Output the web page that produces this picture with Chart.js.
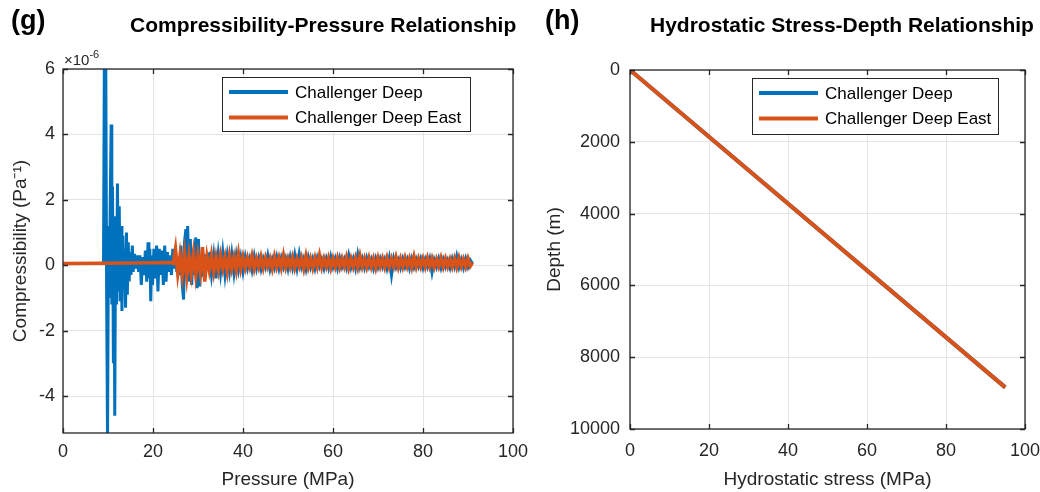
<!DOCTYPE html>
<html>
<head>
<meta charset="utf-8">
<script src="https://cdn.jsdelivr.net/npm/chart.js@4.4.1/dist/chart.umd.min.js"></script>
<style>
  body { margin: 0; background: #fff; width: 1040px; height: 492px; overflow: hidden; position: relative;
         font-family: "Liberation Sans", Arial, sans-serif; }
  .panel { position: absolute; top: 0; height: 492px; }
  .lbl { position: absolute; white-space: nowrap; color: #000; line-height: 1; }
  .lbl sup { font-size: 11px; position: relative; top: -1px; }
</style>
</head>
<body>
<div class="panel" style="left:520px;width:520px"><canvas id="depthChart" width="520" height="492"></canvas></div>
<div class="panel" style="left:0;width:545px"><canvas id="compChart" width="545" height="492"></canvas></div>

<div class="lbl" style="left:11px;top:7px;font-size:27px;font-weight:bold">(g)</div>
<div class="lbl" style="left:130px;top:14px;font-size:21px;font-weight:bold">Compressibility-Pressure Relationship</div>
<div class="lbl" style="left:64px;top:50px;font-size:15px;color:#262626">&times;10<sup>-6</sup></div>
<div class="lbl" style="left:545px;top:7px;font-size:27px;font-weight:bold">(h)</div>
<div class="lbl" style="left:650px;top:14px;font-size:21px;font-weight:bold">Hydrostatic Stress-Depth Relationship</div>

<script>
var FONT = "'Liberation Sans', Arial, sans-serif";
var BLUE = "#0072BD";
var ORANGE = "#D95319";

// ---- (g) compressibility vs pressure, values in 1e-6 Pa^-1 ----
var seriesNames = ["Challenger Deep", "Challenger Deep East"];

// Challenger Deep: the spiky start, read point by point
var blueHeadPressure = [9.0, 9.2, 9.4, 9.5, 9.7, 9.9, 10.1, 10.3, 10.5, 10.7, 10.85, 11.0, 11.2, 11.35, 11.5, 11.7,
  11.9, 12.1, 12.3, 12.5, 12.7, 12.9, 13.1, 13.3, 13.5, 13.7, 13.9, 14.1, 14.3, 14.5, 14.7, 14.9, 15.1, 15.4,
  15.6, 15.9, 16.2, 16.5, 16.8, 17.1, 17.4, 17.7, 18.0, 18.3, 18.6, 18.9, 19.1, 19.3, 19.5, 19.7, 19.9, 20.2,
  20.5, 20.8, 21.1, 21.4, 21.7, 22.0, 22.3, 22.6, 22.9, 23.2, 23.5, 23.8, 24.1, 24.4, 24.7, 25.0, 25.3, 25.6,
  25.9, 26.2, 26.5, 26.8, 27.0, 27.3, 27.5, 27.7, 28.0, 28.3, 28.6, 28.9, 29.2, 29.5, 29.8, 30.1, 30.4, 30.7,
  31.0, 31.3, 31.6, 32.0];
var blueHeadValue = [0.1, 6.5, 2.0, 6.5, -1.0, -5.4, 1.2, -1.0, 2.0, 4.3, -1.2, 2.4, -3.0, 1.0, -4.6, 1.5,
  -1.2, 2.5, -0.8, 1.8, -1.1, 1.2, -1.4, 0.9, -0.7, 0.5, -1.3, 1.0, -0.9, 0.7, -0.5, 0.4, -0.3, 0.6,
  -0.2, 0.35, -0.1, 0.3, -0.2, 0.3, -0.6, 0.25, -0.3, 0.45, -0.5, 0.7, -0.4, 0.5, -1.1, 0.3, -0.6, 0.5,
  -0.4, 0.6, -0.8, 0.5, -0.3, 0.45, -0.6, 0.6, -0.5, 0.4, -0.2, 0.3, -0.3, 0.5, -0.1, 0.3, -0.2, 0.25,
  -0.3, 0.6, -0.6, -1.05, 0.7, 1.1, 0.2, 1.2, -0.5, 0.8, -0.6, 0.5, -0.3, 0.85, -0.7, 0.8, -0.65, 0.3,
  -0.35, 0.35, -0.2, 0.3];

// Challenger Deep: the noisy tail, sampled every 0.5 MPa from 32.5 to 91
var blueTailStart = 32.5;
var tailStep = 0.5;
var blueTailValue = [0.35, -0.3, 0.3, -0.4, 0.35, -0.25, 0.4, -0.3, 0.3, -0.2, 0.35, -0.25, 0.3, -0.15, 0.25, -0.2,
  0.25, -0.1, 0.2, -0.15, 0.28, -0.1, 0.22, -0.12, 0.2, -0.05, 0.3, -0.12, 0.18, -0.08, 0.25, -0.1, 0.22, -0.06, 0.2, -0.12,
  0.25, -0.08, 0.32, -0.1, 0.35, -0.05, 0.2, -0.12, 0.24, -0.06, 0.2, -0.1, 0.22, -0.04, 0.18, -0.1, 0.2, -0.08, 0.26, -0.05,
  0.2, -0.1, 0.22, -0.05, 0.18, -0.08, 0.3, -0.06, 0.2, -0.1, 0.33, -0.05, 0.2, -0.08, 0.22, -0.04, 0.18, -0.1, 0.2, -0.06,
  0.2, -0.05, 0.18, -0.1, 0.22, -0.3, 0.2, -0.06, 0.16, -0.08, 0.2, -0.05, 0.18, -0.1, 0.2, -0.06, 0.18, -0.04, 0.2, -0.08,
  0.18, -0.05, 0.2, -0.22, 0.16, -0.06, 0.2, -0.08, 0.18, -0.05, 0.16, -0.08, 0.2, -0.04, 0.28, -0.06, 0.18, -0.08, 0.2,
  -0.05, 0.16, 0.05];

// Challenger Deep East: quiet start, then noisy tail every 0.5 MPa from 24.5 to 91
var orangeHeadPressure = [0, 8, 16, 24];
var orangeHeadValue = [0.05, 0.06, 0.07, 0.08];
var orangeTailStart = 24.5;
var orangeTailValue = [0.05, 0.5, -0.25, 0.3, -0.3, 0.35, -0.35, 0.3, -0.25, 0.35, -0.3, 0.3, -0.2, 0.55, -0.5,
  0.25, -0.15, 0.3, -0.2, 0.25, -0.15, 0.3, -0.1, 0.25, -0.2, 0.3, -0.1, 0.25, -0.15, 0.35, -0.1, 0.25,
  -0.08, 0.22, -0.05, 0.28, -0.1, 0.2, -0.06, 0.25, -0.08, 0.22, -0.04, 0.2, -0.1, 0.26, -0.05, 0.22, -0.08, 0.3, -0.06, 0.2,
  -0.05, 0.24, -0.08, 0.2, -0.04, 0.22, -0.1, 0.28, -0.06, 0.2, -0.08, 0.22, -0.05, 0.3, -0.06, 0.2, -0.04, 0.22, -0.08, 0.2,
  -0.05, 0.22, -0.06, 0.2, -0.04, 0.24, -0.08, 0.2, -0.05, 0.22, -0.06, 0.28, -0.04, 0.2, -0.06, 0.22, -0.05, 0.2, -0.08, 0.22,
  -0.04, 0.2, -0.06, 0.22, -0.05, 0.2, -0.04, 0.24, -0.06, 0.2, -0.05, 0.22, -0.04, 0.2, -0.06, 0.26, -0.05, 0.2, -0.04, 0.2,
  -0.05, 0.22, -0.04, 0.2, -0.06, 0.18, -0.04, 0.22, -0.05, 0.2, -0.04, 0.18, -0.05, 0.2, -0.06, 0.22, -0.04, 0.18, -0.05, 0.2,
  -0.03, 0.08];

var pressureTicks = [0, 20, 40, 60, 80, 100];
var compTicks = [-4, -2, 0, 2, 4, 6];
var compMin = -5.13;
var compMax = 6;

// ---- (h) depth vs hydrostatic stress ----
var stressDeep = [0, 95];
var depthDeep = [0, 8840];
var stressEast = [0, 95];
var depthEast = [0, 8840];
var stressTicks = [0, 20, 40, 60, 80, 100];
var depthTicks = [0, 2000, 4000, 6000, 8000, 10000];

function toPoints(xs, ys) {
  var pts = [];
  for (var i = 0; i < xs.length; i++) pts.push({ x: xs[i], y: ys[i] });
  return pts;
}
function gridPoints(start, step, ys) {
  var pts = [];
  for (var i = 0; i < ys.length; i++) pts.push({ x: start + i * step, y: ys[i] });
  return pts;
}

Chart.defaults.font.family = FONT;
Chart.defaults.color = "#262626";

// box round the axes with inward ticks on all four sides
var frameTicks = {
  id: "frameTicks",
  afterDraw: function (chart) {
    var a = chart.chartArea, ctx = chart.ctx;
    var xs = chart.scales.x, ys = chart.scales.y;
    ctx.save();
    ctx.strokeStyle = "#262626";
    ctx.lineWidth = 1.3;
    ctx.beginPath();
    xs.ticks.forEach(function (t) {
      var px = Math.round(xs.getPixelForValue(t.value)) + 0.5;
      ctx.moveTo(px, a.bottom); ctx.lineTo(px, a.bottom - 5);
      ctx.moveTo(px, a.top); ctx.lineTo(px, a.top + 5);
    });
    ys.ticks.forEach(function (t) {
      var py = Math.round(ys.getPixelForValue(t.value)) + 0.5;
      ctx.moveTo(a.left, py); ctx.lineTo(a.left + 5, py);
      ctx.moveTo(a.right, py); ctx.lineTo(a.right - 5, py);
    });
    ctx.stroke();
    ctx.strokeRect(a.left, a.top, a.right - a.left, a.bottom - a.top);
    ctx.restore();
  }
};

// legend drawn inside the plot, boxed like the original
var boxLegend = {
  id: "boxLegend",
  afterDatasetsDraw: function (chart, args, opts) {
    var ctx = chart.ctx;
    ctx.save();
    ctx.fillStyle = "#fff";
    ctx.fillRect(opts.x, opts.y, opts.w, opts.h);
    ctx.strokeStyle = "#262626";
    ctx.lineWidth = 1;
    ctx.strokeRect(opts.x + 0.5, opts.y + 0.5, opts.w, opts.h);
    ctx.font = "17px " + FONT;
    ctx.textBaseline = "middle";
    var colors = [BLUE, ORANGE];
    for (var i = 0; i < seriesNames.length; i++) {
      var y = opts.y + 15 + i * 25.5;
      ctx.strokeStyle = colors[i];
      ctx.lineWidth = 4;
      ctx.beginPath();
      ctx.moveTo(opts.x + 7, y);
      ctx.lineTo(opts.x + 66, y);
      ctx.stroke();
      ctx.fillStyle = "#000";
      ctx.fillText(seriesNames[i], opts.x + 73, y + 1);
    }
    ctx.restore();
  }
};

function axisOptions(ticksList, min, max, title, titlePad, fitSize, isY, reverse, labelPad) {
  return {
    type: "linear",
    min: min,
    max: max,
    reverse: !!reverse,
    afterBuildTicks: function (scale) {
      scale.ticks = ticksList.map(function (v) { return { value: v }; });
    },
    afterFit: function (scale) {
      if (isY) {
        scale.width = fitSize;
      } else {
        scale.height = fitSize;
        // let the end labels overhang instead of shrinking the plot
        scale.paddingLeft = 0;
        scale.paddingRight = 0;
      }
    },
    grid: { color: "#e4e4e4", lineWidth: 1, drawTicks: false },
    border: { display: false },
    ticks: {
      autoSkip: false,
      maxRotation: 0,
      padding: labelPad,
      color: "#262626",
      font: { size: 18 },
      callback: function (v) { return String(v); }
    },
    title: {
      display: true,
      text: title,
      color: "#262626",
      font: { size: 19 },
      padding: isY ? { top: titlePad, bottom: 0 } : { top: 0, bottom: titlePad }
    }
  };
}

new Chart(document.getElementById("compChart"), {
  type: "scatter",
  data: {
    datasets: [
      {
        label: seriesNames[0],
        data: toPoints(blueHeadPressure, blueHeadValue).concat(gridPoints(blueTailStart, tailStep, blueTailValue)),
        showLine: true, borderColor: BLUE, borderWidth: 3, pointRadius: 0, order: 2
      },
      {
        label: seriesNames[1],
        data: toPoints(orangeHeadPressure, orangeHeadValue).concat(gridPoints(orangeTailStart, tailStep, orangeTailValue)),
        showLine: true, borderColor: ORANGE, borderWidth: 3.5, pointRadius: 0, order: 1
      }
    ]
  },
  options: {
    responsive: false,
    animation: false,
    devicePixelRatio: 1,
    layout: { padding: { left: 0, right: 32, top: 69, bottom: 0 } },
    plugins: {
      legend: { display: false },
      tooltip: { enabled: false },
      boxLegend: { x: 222, y: 77, w: 248, h: 54 }
    },
    scales: {
      x: axisOptions(pressureTicks, 0, 100, "Pressure (MPa)", 1, 59, false, false, 8),
      y: axisOptions(compTicks, compMin, compMax, "Compressibility (Pa\u207B\u00B9)", 9, 63, true, false, 8)
    }
  },
  plugins: [boxLegend, frameTicks]
});

new Chart(document.getElementById("depthChart"), {
  type: "scatter",
  data: {
    datasets: [
      {
        label: seriesNames[0],
        data: toPoints(stressDeep, depthDeep),
        showLine: true, borderColor: BLUE, borderWidth: 4, pointRadius: 0, order: 2
      },
      {
        label: seriesNames[1],
        data: toPoints(stressEast, depthEast),
        showLine: true, borderColor: ORANGE, borderWidth: 4, pointRadius: 0, order: 1
      }
    ]
  },
  options: {
    responsive: false,
    animation: false,
    devicePixelRatio: 1,
    layout: { padding: { left: 0, right: 15, top: 70, bottom: 0 } },
    plugins: {
      legend: { display: false },
      tooltip: { enabled: false },
      boxLegend: { x: 232, y: 78, w: 246, h: 56 }
    },
    scales: {
      x: axisOptions(stressTicks, 0, 100, "Hydrostatic stress (MPa)", 1, 63, false, false, 11),
      y: axisOptions(depthTicks, 0, 10000, "Depth (m)", 23, 110, true, true, 10)
    }
  },
  plugins: [boxLegend, frameTicks]
});
</script>
</body>
</html>
